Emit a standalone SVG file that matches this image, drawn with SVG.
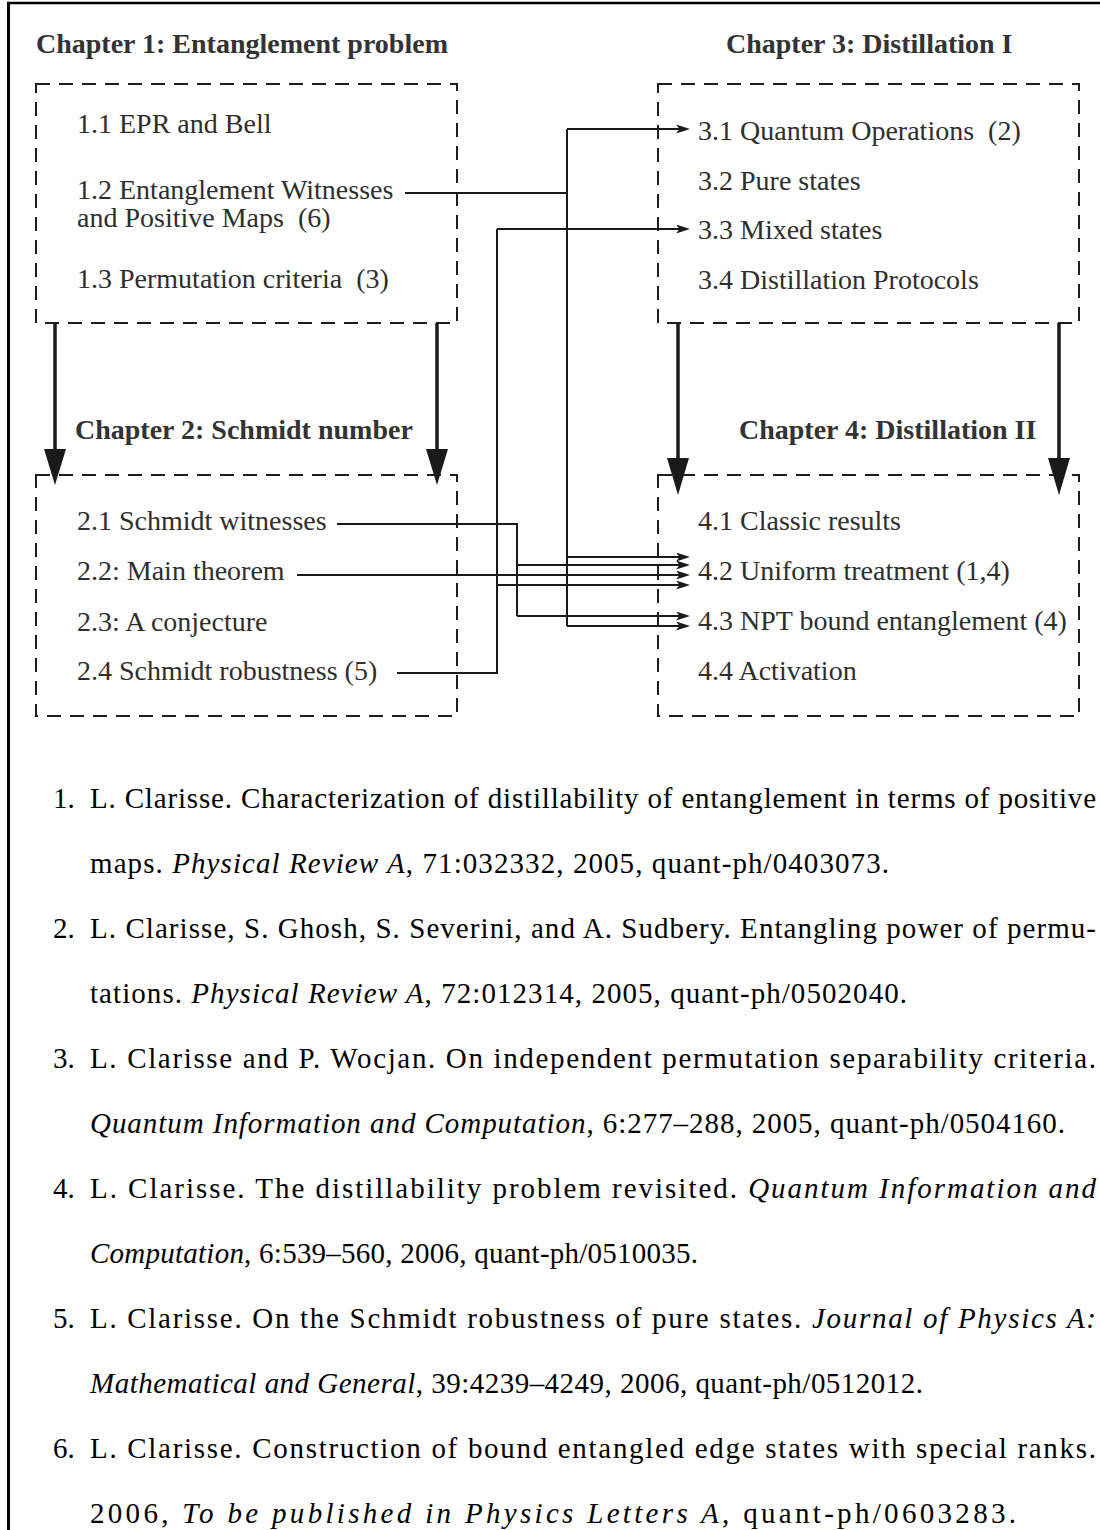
<svg xmlns="http://www.w3.org/2000/svg" width="1100" height="1530" viewBox="0 0 1100 1530">
<defs>
<style>
.frame{stroke:#000;fill:none}
.box{fill:none;stroke:#1e1e1e;stroke-width:2;stroke-dasharray:14 9}
.title{font-family:"Liberation Serif","Times New Roman",serif;font-weight:bold;font-size:28px;fill:#333}
.item{font-family:"Liberation Serif","Times New Roman",serif;font-size:28px;fill:#2e2e2e}
.conn{fill:none;stroke:#1a1a1a;stroke-width:2}
.thick{fill:none;stroke:#1a1a1a;stroke-width:3.5}
.head{fill:#1a1a1a}
.ref{font-family:"Liberation Serif","Times New Roman",serif;font-size:29px;fill:#000}
.it{font-style:italic}
</style>
<marker id="arr" viewBox="0 0 14 9" refX="10" refY="4.5" markerWidth="14" markerHeight="9" markerUnits="userSpaceOnUse" orient="auto">
<path d="M0,0 L14,4.5 L0,9 L3.5,4.5 z" fill="#1a1a1a"/>
</marker>
</defs>
<rect width="1100" height="1530" fill="#fff"/>
<g id="frame">
<line class="frame" x1="8.5" y1="2" x2="8.5" y2="1530" stroke-width="3"/>
<line class="frame" x1="7" y1="3" x2="1100" y2="3" stroke-width="2.5"/>
</g>

<g id="chapter1">
<text class="title" x="36" y="53">Chapter 1: Entanglement problem</text>
<rect class="box" x="36" y="84" width="421" height="239"/>
<text class="item" x="77" y="133">1.1 EPR and Bell</text>
<text class="item" x="77" y="199">1.2 Entanglement Witnesses</text>
<text class="item" x="77" y="227">and Positive Maps&#160; (6)</text>
<text class="item" x="77" y="288">1.3 Permutation criteria&#160; (3)</text>
</g>

<g id="chapter3">
<text class="title" x="726" y="53">Chapter 3: Distillation I</text>
<rect class="box" x="658" y="84" width="421" height="239"/>
<text class="item" x="698" y="140">3.1 Quantum Operations&#160; (2)</text>
<text class="item" x="698" y="190">3.2 Pure states</text>
<text class="item" x="698" y="239">3.3 Mixed states</text>
<text class="item" x="698" y="289">3.4 Distillation Protocols</text>
</g>

<g id="chapter2">
<text class="title" x="75" y="439">Chapter 2: Schmidt number</text>
<rect class="box" x="36" y="475" width="421" height="241"/>
<text class="item" x="77" y="530">2.1 Schmidt witnesses</text>
<text class="item" x="77" y="580">2.2: Main theorem</text>
<text class="item" x="77" y="631">2.3: A conjecture</text>
<text class="item" x="77" y="680">2.4 Schmidt robustness (5)</text>
</g>

<g id="chapter4">
<text class="title" x="739" y="439">Chapter 4: Distillation II</text>
<rect class="box" x="658" y="475" width="421" height="241"/>
<text class="item" x="698" y="530">4.1 Classic results</text>
<text class="item" x="698" y="580">4.2 Uniform treatment (1,4)</text>
<text class="item" x="698" y="630">4.3 NPT bound entanglement (4)</text>
<text class="item" x="698" y="680">4.4 Activation</text>
</g>

<g id="connectors">
<line class="thick" x1="55" y1="323" x2="55" y2="452"/>
<polygon class="head" points="44,449 66,449 55,485"/>
<line class="thick" x1="437" y1="323" x2="437" y2="452"/>
<polygon class="head" points="426,449 448,449 437,485"/>
<line class="thick" x1="678" y1="323" x2="678" y2="461"/>
<polygon class="head" points="667,458 689,458 678,495"/>
<line class="thick" x1="1059" y1="323" x2="1059" y2="461"/>
<polygon class="head" points="1048,458 1070,458 1059,495"/>

<path class="conn" d="M405,193 H567"/>
<path class="conn" d="M567,129 V626"/>
<path class="conn" d="M567,129 H686" marker-end="url(#arr)"/>
<path class="conn" d="M567,557 H686" marker-end="url(#arr)"/>
<path class="conn" d="M567,626 H686" marker-end="url(#arr)"/>

<path class="conn" d="M337,524 H517 V616"/>
<path class="conn" d="M517,565 H686" marker-end="url(#arr)"/>
<path class="conn" d="M517,616 H686" marker-end="url(#arr)"/>

<path class="conn" d="M297,575 H686" marker-end="url(#arr)"/>

<path class="conn" d="M397,673 H497 V229"/>
<path class="conn" d="M497,229 H686" marker-end="url(#arr)"/>
<path class="conn" d="M497,585 H686" marker-end="url(#arr)"/>
</g>

<g id="references">
<text class="ref" x="53" y="808">1.</text>
<text class="ref" x="90" y="808" textLength="1006" lengthAdjust="spacing">L. Clarisse.  Characterization of distillability of entanglement in terms of positive</text>
<text class="ref" x="90" y="873" textLength="799" lengthAdjust="spacing">maps. <tspan class="it">Physical Review A</tspan>, 71:032332, 2005, quant-ph/0403073.</text>

<text class="ref" x="53" y="938">2.</text>
<text class="ref" x="90" y="938" textLength="1006" lengthAdjust="spacing">L. Clarisse, S. Ghosh, S. Severini, and A. Sudbery. Entangling power of permu-</text>
<text class="ref" x="90" y="1003" textLength="817" lengthAdjust="spacing">tations. <tspan class="it">Physical Review A</tspan>, 72:012314, 2005, quant-ph/0502040.</text>

<text class="ref" x="53" y="1068">3.</text>
<text class="ref" x="90" y="1068" textLength="1006" lengthAdjust="spacing">L. Clarisse and P. Wocjan. On independent permutation separability criteria.</text>
<text class="ref" x="90" y="1133" textLength="975" lengthAdjust="spacing"><tspan class="it">Quantum Information and Computation</tspan>, 6:277–288, 2005, quant-ph/0504160.</text>

<text class="ref" x="53" y="1198">4.</text>
<text class="ref" x="90" y="1198" textLength="1006" lengthAdjust="spacing">L. Clarisse. The distillability problem revisited. <tspan class="it">Quantum Information and</tspan></text>
<text class="ref" x="90" y="1263" textLength="608" lengthAdjust="spacing"><tspan class="it">Computation</tspan>, 6:539–560, 2006, quant-ph/0510035.</text>

<text class="ref" x="53" y="1328">5.</text>
<text class="ref" x="90" y="1328" textLength="1006" lengthAdjust="spacing">L. Clarisse. On the Schmidt robustness of pure states. <tspan class="it">Journal of Physics A:</tspan></text>
<text class="ref" x="90" y="1393" textLength="833" lengthAdjust="spacing"><tspan class="it">Mathematical and General</tspan>, 39:4239–4249, 2006, quant-ph/0512012.</text>

<text class="ref" x="53" y="1458">6.</text>
<text class="ref" x="90" y="1458" textLength="1006" lengthAdjust="spacing">L. Clarisse. Construction of bound entangled edge states with special ranks.</text>
<text class="ref" x="90" y="1523" textLength="926" lengthAdjust="spacing">2006, <tspan class="it">To be published in Physics Letters A</tspan>, quant-ph/0603283.</text>
</g>
</svg>
